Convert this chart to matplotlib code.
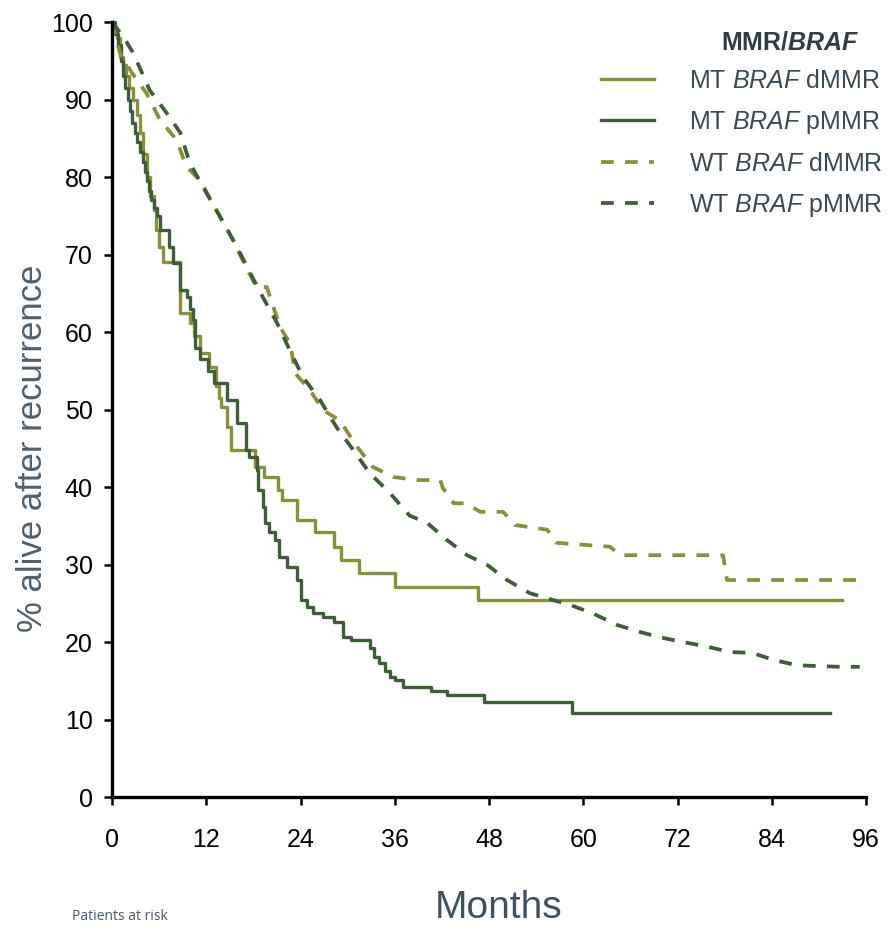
import matplotlib
matplotlib.use("Agg")
import matplotlib.pyplot as plt

# survival curves (months, % alive after recurrence)
mt_dmmr_t = [0, 0.3, 0.6, 1.0, 1.4, 1.8, 2.2, 2.7, 3.2, 3.6, 4.0, 4.4, 4.8, 5.3,
             5.6, 6.0, 6.5, 8.6, 9.9, 10.4, 11.2, 12.4, 13.3, 13.6, 13.9, 14.6,
             15.2, 18.2, 19.3, 21.1, 21.6, 23.5, 25.8, 28.2, 29.2, 31.4, 36.0,
             46.6, 93.0]
mt_dmmr_v = [100, 99, 98, 95.5, 94.5, 93, 91.5, 90, 88, 85.7, 83, 80, 77.5, 75.7,
             73.2, 71, 69, 62.4, 61.2, 59.5, 57.3, 55.5, 53, 51.5, 50.3, 47.7,
             44.8, 42.6, 41.3, 39.6, 38.3, 35.7, 34.2, 32.3, 30.6, 28.9, 27.1,
             25.4, 25.4]

mt_pmmr_t = [0, 0.4, 0.7, 1.1, 1.4, 1.7, 2.0, 2.3, 2.6, 2.9, 3.2, 3.6, 3.9, 4.2,
             4.4, 4.7, 5.0, 5.4, 5.7, 6.1, 7.2, 7.8, 8.7, 9.5, 9.9, 10.3, 10.6,
             11.2, 12.2, 13.0, 14.6, 15.9, 17.1, 17.5, 18.4, 18.6, 19.2, 19.5,
             20.0, 20.8, 21.3, 22.3, 23.5, 24.0, 24.8, 25.6, 26.8, 28.2, 29.4,
             30.4, 32.8, 33.4, 34.0, 34.8, 35.4, 36.0, 37.0, 40.6, 42.6, 47.3,
             58.6, 91.4]
mt_pmmr_v = [100, 98.5, 97, 95, 93, 91.5, 90, 88.5, 87, 85.7, 84.5, 83.2, 82, 80.7,
             79.5, 78.2, 77, 76, 75, 73.2, 71, 68.9, 65.4, 64.5, 63, 61.5, 58,
             56.5, 55, 53.4, 51.2, 48.2, 44.8, 43.9, 42.2, 39.6, 37.4, 35.4,
             34.2, 33.2, 31, 29.7, 28, 25.4, 24.5, 23.7, 23.2, 22.6, 20.6,
             20.2, 19.2, 18.1, 17.3, 16.3, 15.5, 15.1, 14.2, 13.7, 13.2, 12.3,
             10.8, 10.8]

wt_dmmr_t = [0, 1, 2.5, 4.4, 6.1, 8.2, 9.5, 11.2, 13.3, 15.4, 17.0, 18.4, 19.7,
             20.4, 21.4, 22.7, 23.3, 25.2, 26.9, 29.0, 31.2, 33.2, 35.8, 38.8,
             41.8, 42.1, 43.5, 45.0, 46.9, 49.8, 51.3, 55.4, 56.6, 63.4, 64.7,
             77.8, 78.3, 95.6]
wt_dmmr_v = [100, 96, 93.5, 90.8, 87.4, 84.8, 81.3, 79.6, 75.7, 71.9, 68.5, 65.8,
             65.8, 63.7, 60.6, 58.5, 54.7, 52.5, 49.9, 48.6, 45.2, 42.6, 41.3,
             40.9, 40.9, 39.9, 37.9, 37.9, 36.8, 36.8, 35.1, 34.5, 32.8, 32.3,
             31.2, 31.2, 28, 28]

wt_pmmr_t = [0, 1.5, 2.7, 4.8, 7.0, 8.7, 9.9, 11.6, 13.8, 15.9, 17.6, 19.2, 21.0,
             22.7, 24.3, 26.5, 28.6, 30.7, 32.8, 35.4, 37.9, 40.1, 42.6, 45.2,
             47.7, 50.3, 53.2, 56.2, 58.3, 61.2, 64.3, 67.2, 69.8, 72.7, 75.8,
             78.7, 81.5, 84.2, 87.2, 89.8, 92.7, 95.2]
wt_pmmr_v = [100, 98, 96, 91.2, 88.2, 85.7, 81.8, 78.7, 74.8, 71, 67.6, 64.5,
             61.2, 57.5, 54.2, 51.2, 47.7, 44.8, 41.8, 39.2, 36.3, 35.4, 33.2,
             31.2, 30.0, 28, 26.3, 25.4, 24.8, 23.7, 22.2, 21.3, 20.6, 20, 19.4,
             18.7, 18.6, 17.7, 17, 16.9, 16.8, 16.8]

series_labels = ["MT $\\mathit{BRAF}$ dMMR", "MT $\\mathit{BRAF}$ pMMR",
                 "WT $\\mathit{BRAF}$ dMMR", "WT $\\mathit{BRAF}$ pMMR"]
x_ticks = [0, 12, 24, 36, 48, 60, 72, 84, 96]
y_ticks = [0, 10, 20, 30, 40, 50, 60, 70, 80, 90, 100]

OLIVE = "#8a9036"
GREEN = "#3d5e36"
SANS = ["Liberation Sans", "DejaVu Sans"]

plt.rcParams["font.family"] = SANS
plt.rcParams["mathtext.fontset"] = "custom"
plt.rcParams["mathtext.rm"] = "Liberation Sans"
plt.rcParams["mathtext.it"] = "Liberation Sans:italic"
plt.rcParams["mathtext.bf"] = "Liberation Sans:bold"
plt.rcParams["mathtext.bfit"] = "Liberation Sans:bold:italic"

fig = plt.figure(figsize=(8.94, 9.30), dpi=100)
ax = fig.add_axes([0.1253, 0.143, 0.8434, 0.8333])

lw = 2.4
dash = (0, (3.4, 3.0))
ax.plot(mt_dmmr_t, mt_dmmr_v, drawstyle="steps-post", color=OLIVE, lw=lw,
        label=series_labels[0], clip_on=False)
ax.plot(mt_pmmr_t, mt_pmmr_v, drawstyle="steps-post", color=GREEN, lw=lw,
        label=series_labels[1], clip_on=False)
ax.plot(wt_dmmr_t, wt_dmmr_v, color=OLIVE, lw=lw + 0.3, linestyle=dash,
        label=series_labels[2], clip_on=False)
ax.plot(wt_pmmr_t, wt_pmmr_v, color=GREEN, lw=lw + 0.3, linestyle=dash,
        label=series_labels[3], clip_on=False)

ax.set_xlim(0, 96)
ax.set_ylim(0, 100)
ax.set_xticks(x_ticks)
ax.set_yticks(y_ticks)
for side in ("top", "right"):
    ax.spines[side].set_visible(False)
for side in ("left", "bottom"):
    ax.spines[side].set_linewidth(2.4)
    ax.spines[side].set_color("black")
ax.tick_params(axis="both", direction="out", length=6, width=1.8,
               colors="black", labelsize=18)
ax.tick_params(axis="y", pad=8)
ax.tick_params(axis="x", pad=16)

ax.set_ylabel("% alive after recurrence", fontsize=25, color="#4f5f6b")
ax.yaxis.set_label_coords(-0.083, 0.45)
fig.text(0.558, 0.024, "Months", fontsize=28, color="#3d5261",
         ha="center", va="center")
fig.text(0.081, 0.014, "Patients at risk", fontsize=10,
         family=["Open Sans", "DejaVu Sans"], color="#4a5a6a",
         ha="left", va="center")

leg = ax.legend(loc="upper left", bbox_to_anchor=(0.6485, 0.940),
                frameon=False, handlelength=2.12, handletextpad=1.4,
                labelspacing=0.64, borderpad=0, borderaxespad=0,
                prop={"size": 18})
for txt in leg.get_texts():
    txt.set_color("#3a4a55")
ax.text(0.899, 0.974, "$\\mathbf{MMR/}\\mathbfit{BRAF}$", transform=ax.transAxes,
        fontsize=18, color="#2f3d45", ha="center", va="center")

fig.savefig("out.png", dpi=100)
